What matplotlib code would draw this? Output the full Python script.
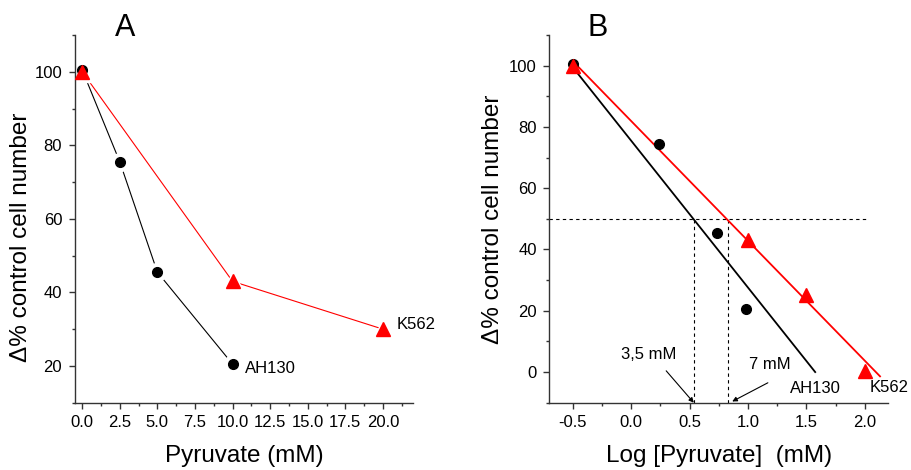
import matplotlib
matplotlib.use("Agg")
import matplotlib.pyplot as plt
from matplotlib.ticker import MultipleLocator

plt.rcParams["font.family"] = ["Liberation Sans", "DejaVu Sans"]

# Panel A: raw concentrations
a_ah130_x = [0.0, 2.5, 5.0, 10.0]
a_ah130_y = [100.5, 75.5, 45.5, 20.5]
a_k562_x = [0.0, 10.0, 20.0]
a_k562_y = [100.0, 43.0, 30.0]

# Panel B: log concentrations
b_ah130_x = [-0.5, 0.24, 0.735, 0.985]
b_ah130_y = [100.5, 74.5, 45.5, 20.5]
b_k562_x = [-0.5, 1.0, 1.5, 2.0]
b_k562_y = [100.0, 43.0, 25.0, 0.5]

# linear fits (endpoints)
fit_ah130_x = [-0.5, 1.575]
fit_ah130_y = [99.5, 0.0]
fit_k562_x = [-0.5, 2.13]
fit_k562_y = [101.5, -1.4]

# IC50 guides
ic50_x = [0.536, 0.83]
ic50_level = 50

RED = "#ff0000"
AXC = "#333333"


def style_axes(ax):
    for side in ("top", "right"):
        ax.spines[side].set_visible(False)
    for side in ("left", "bottom"):
        ax.spines[side].set_linewidth(1.0)
        ax.spines[side].set_color(AXC)
    ax.tick_params(which="major", direction="out", length=4, width=1.0,
                   color=AXC, labelsize=12, pad=5)
    ax.tick_params(which="minor", direction="out", length=2.5, width=1.0,
                   color=AXC)
    ax.set_ylabel("\u0394% control cell number", fontsize=17.5, labelpad=4)


fig = plt.figure(figsize=(9.11, 4.70), dpi=100)
ax1 = fig.add_axes([0.082, 0.1432, 0.3713, 0.7823])
ax2 = fig.add_axes([0.603, 0.1432, 0.372, 0.7823])

# ---- Panel A ----
ax1.plot(a_ah130_x, a_ah130_y, color="black", lw=0.8, zorder=1)
ax1.plot(a_k562_x, a_k562_y, color=RED, lw=0.8, zorder=1)
# white halos give the broken-line look around the symbols
ax1.plot(a_ah130_x, a_ah130_y, "o", ms=13, color="white", zorder=2)
ax1.plot(a_k562_x, a_k562_y, "^", ms=15, color="white", zorder=2)
ax1.plot(a_ah130_x, a_ah130_y, "o", ms=7, color="black", zorder=3)
ax1.plot(a_k562_x, a_k562_y, "^", ms=10, color=RED, zorder=4)

ax1.set_xlim(-0.5, 22)
ax1.set_ylim(10, 110)
ax1.xaxis.set_major_locator(MultipleLocator(2.5))
ax1.xaxis.set_minor_locator(MultipleLocator(1.25))
ax1.yaxis.set_minor_locator(MultipleLocator(10))
ax1.set_yticks([20, 40, 60, 80, 100])
ax1.set_xticklabels([f"{v:.1f}" for v in ax1.get_xticks()])
style_axes(ax1)
ax1.yaxis.set_label_coords(-0.125, 0.45)
ax1.set_xlabel("Pyruvate (mM)", fontsize=17.5, labelpad=11)
ax1.text(10.85, 19.4, "AH130", fontsize=12, va="center", ha="left")
ax1.text(20.9, 31.2, "K562", fontsize=12, va="center", ha="left")
fig.text(0.137, 0.94, "A", fontsize=22, ha="center", va="center")

# ---- Panel B ----
ax2.plot(fit_ah130_x, fit_ah130_y, color="black", lw=1.3, zorder=2)
ax2.plot(fit_k562_x, fit_k562_y, color=RED, lw=1.3, zorder=2)
ax2.plot(b_ah130_x, b_ah130_y, "o", ms=7, color="black", zorder=3)
ax2.plot(b_k562_x, b_k562_y, "^", ms=10, color=RED, zorder=4)

ax2.plot([-0.7, 2.03], [ic50_level, ic50_level], color="black", lw=0.8,
         ls=(0, (3, 3)), zorder=1)
for xv in ic50_x:
    ax2.plot([xv, xv], [-10, ic50_level], color="black", lw=0.8,
             ls=(0, (3, 3)), zorder=1)

ax2.annotate("", xy=(0.536, -10), xytext=(0.30, 0.4),
             arrowprops=dict(arrowstyle="-|>", color="black", lw=0.8,
                             mutation_scale=7, shrinkA=0, shrinkB=0))
ax2.annotate("", xy=(0.865, -9.6), xytext=(1.17, -3.5),
             arrowprops=dict(arrowstyle="-|>", color="black", lw=0.8,
                             mutation_scale=7, shrinkA=0, shrinkB=0))
ax2.text(0.15, 5.6, "3,5 mM", fontsize=12, ha="center", va="center")
ax2.text(1.19, 2.4, "7 mM", fontsize=12, ha="center", va="center")
ax2.text(1.58, -5.5, "AH130", fontsize=12, ha="center", va="center")
ax2.text(2.21, -5.2, "K562", fontsize=12, ha="center", va="center")

ax2.set_xlim(-0.7, 2.2)
ax2.set_ylim(-10, 110)
ax2.set_xticks([-0.5, 0.0, 0.5, 1.0, 1.5, 2.0])
ax2.set_xticklabels(["-0.5", "0.0", "0.5", "1.0", "1.5", "2.0"])
ax2.xaxis.set_minor_locator(MultipleLocator(0.25))
ax2.set_yticks([0, 20, 40, 60, 80, 100])
ax2.yaxis.set_minor_locator(MultipleLocator(10))
style_axes(ax2)
ax2.set_xlabel("Log [Pyruvate]  (mM)", fontsize=17.5, labelpad=11)
fig.text(0.656, 0.94, "B", fontsize=22, ha="center", va="center")

fig.savefig("out.png", dpi=100)
